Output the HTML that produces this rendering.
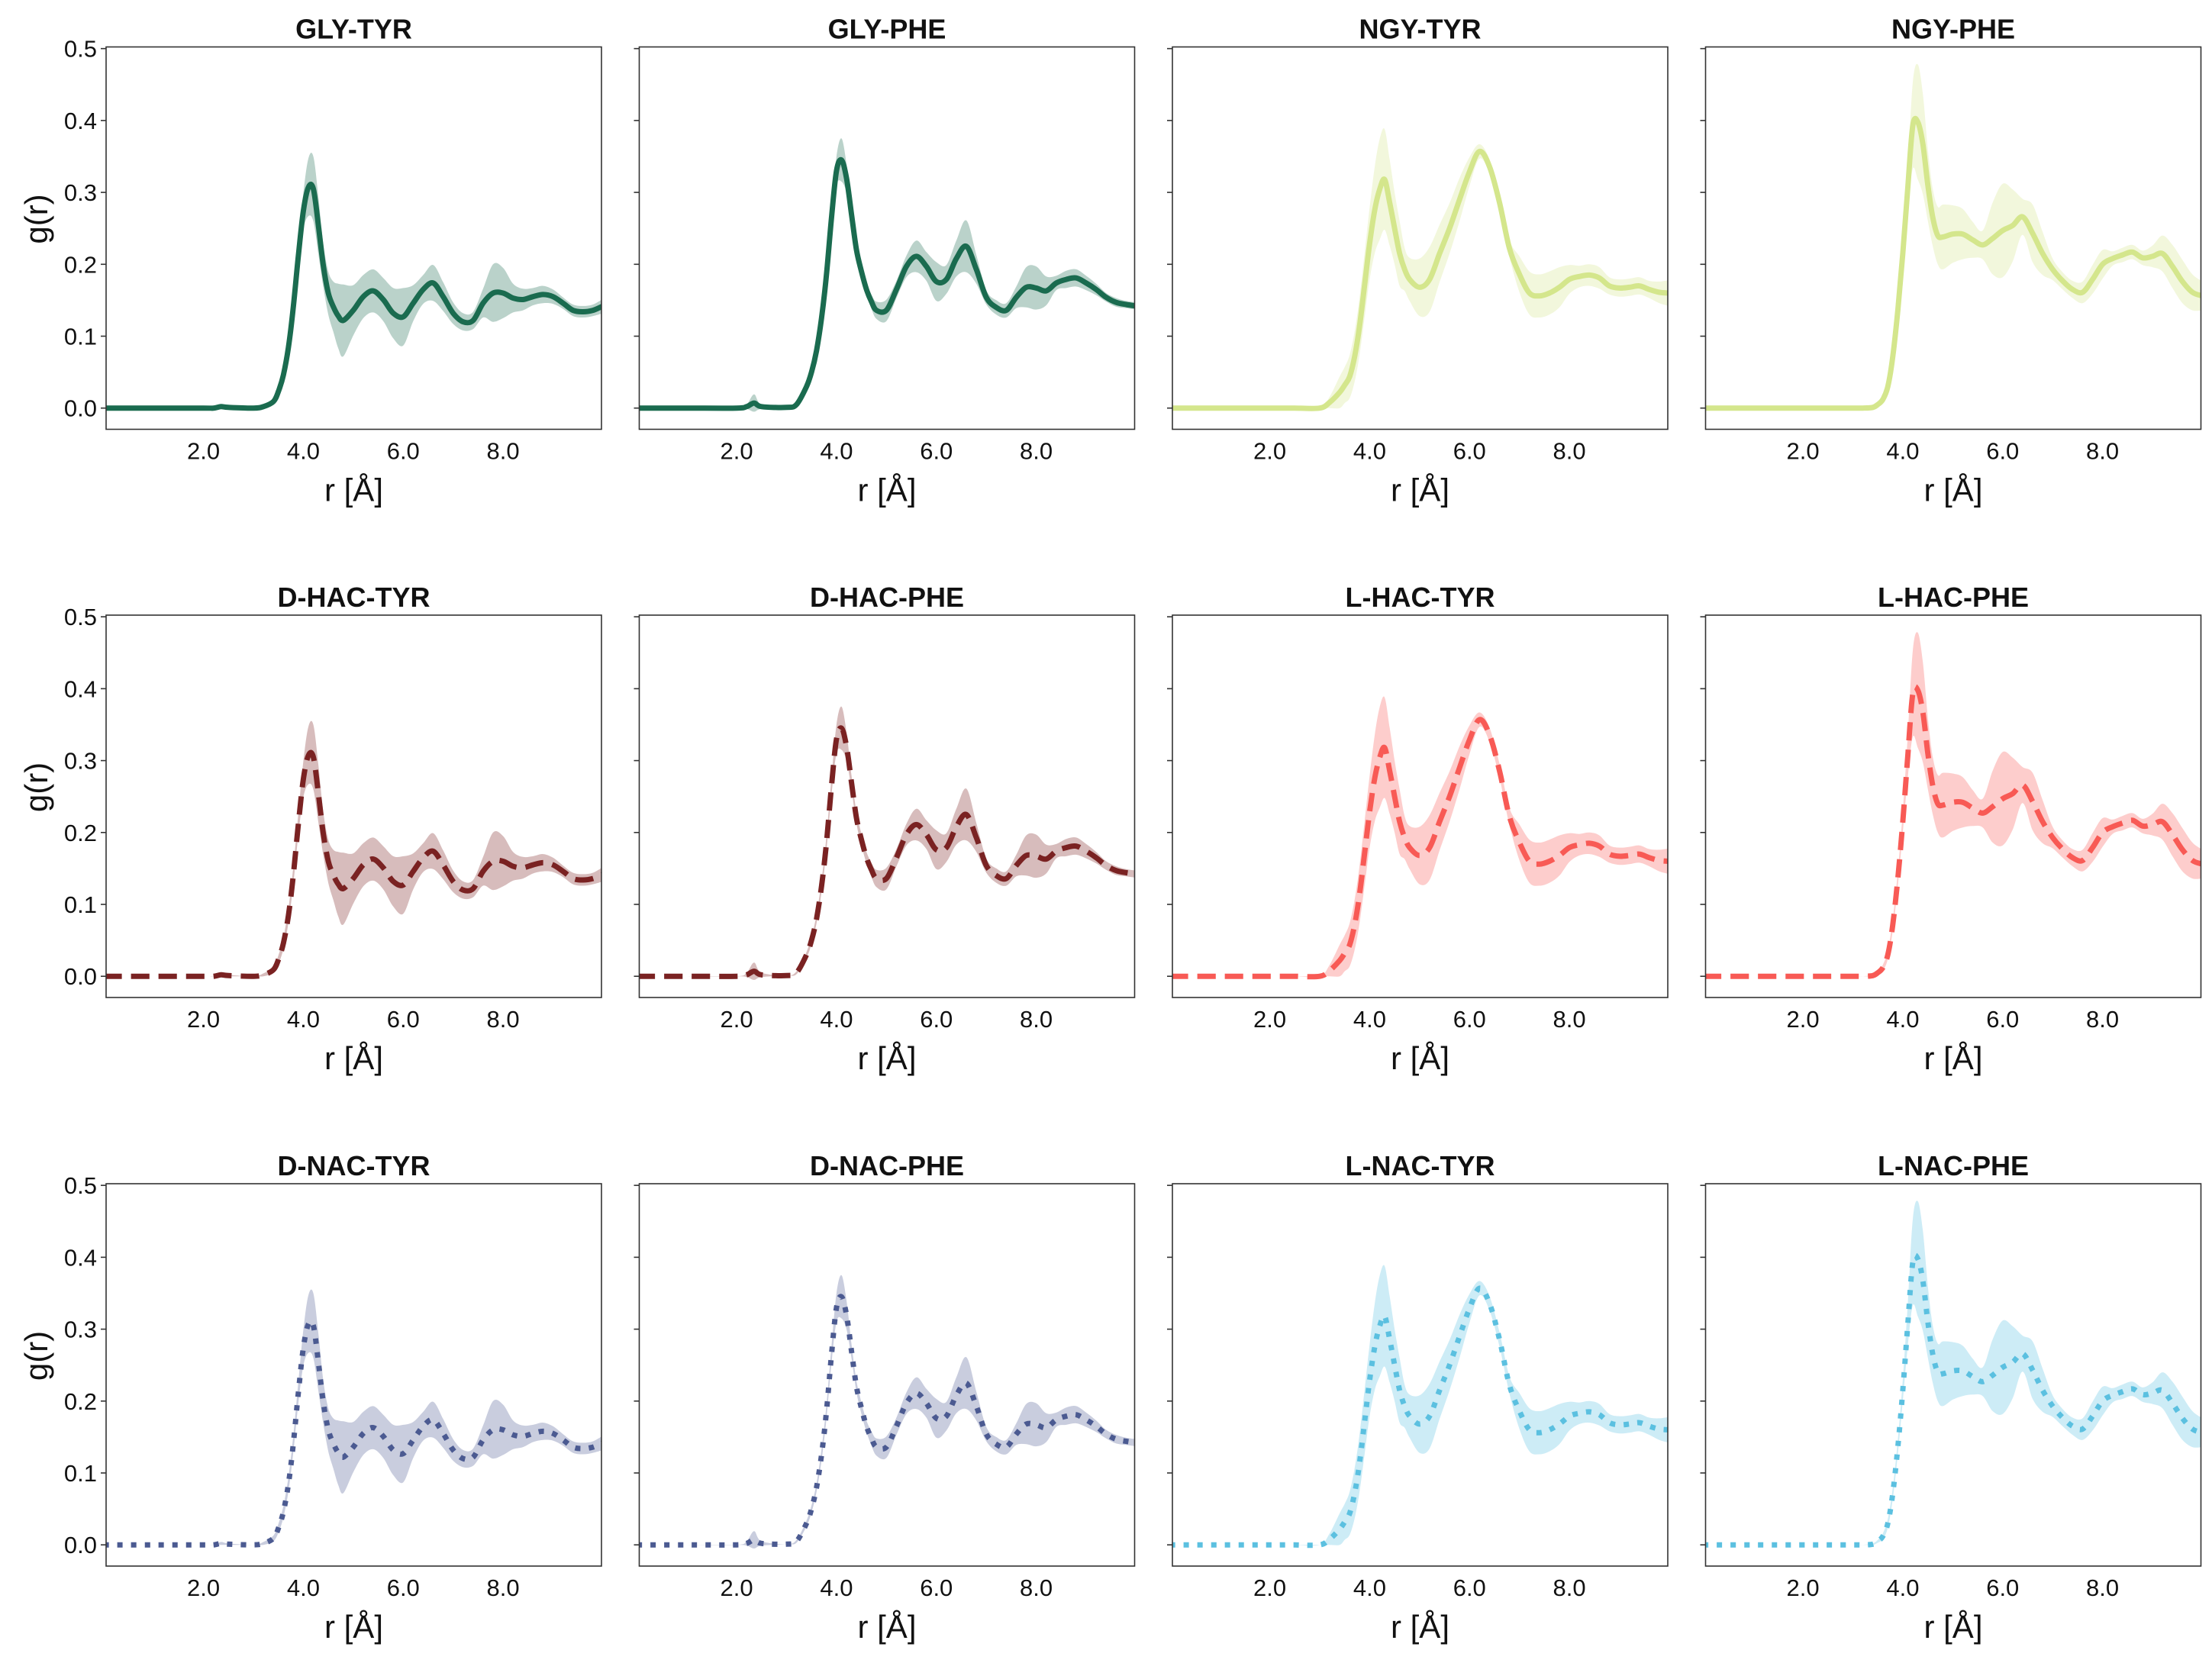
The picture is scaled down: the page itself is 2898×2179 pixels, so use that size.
<!DOCTYPE html>
<html><head><meta charset="utf-8"><style>
html,body{margin:0;padding:0;background:#fff;}
svg{display:block;}
text{font-family:"Liberation Sans",sans-serif;fill:#111;}
</style></head><body>
<svg id="fig" width="2898" height="2179" viewBox="0 0 2898 2179" xmlns="http://www.w3.org/2000/svg"></svg>
<script>
// shared r grid (Å)
const rGrid = [0,1,2,2.2,2.35,2.5,3.0,3.2,3.4,3.5,3.6,3.7,3.8,3.9,4.0,4.1,4.2,4.3,4.4,4.5,4.6,4.7,4.8,5.0,5.2,5.4,5.6,5.8,6.0,6.2,6.4,6.6,6.8,7.0,7.2,7.4,7.6,7.8,8.0,8.2,8.4,8.6,8.8,9.0,9.2,9.4,9.6,9.8,10.0];
// TYR-like (GLY/D-*) series
const gA = [0,0,0,0,0.002,0.001,0,0.002,0.009,0.023,0.046,0.084,0.141,0.212,0.274,0.307,0.305,0.255,0.198,0.16,0.141,0.128,0.122,0.136,0.155,0.163,0.151,0.132,0.127,0.146,0.165,0.174,0.155,0.132,0.12,0.122,0.146,0.16,0.16,0.153,0.151,0.155,0.158,0.155,0.146,0.136,0.134,0.136,0.142];
const eA = [0,0,0,0,0.002,0.001,0,0.002,0.004,0.006,0.008,0.01,0.012,0.015,0.025,0.04,0.045,0.04,0.03,0.03,0.035,0.045,0.05,0.035,0.03,0.03,0.03,0.035,0.04,0.025,0.02,0.025,0.02,0.015,0.012,0.012,0.02,0.04,0.035,0.02,0.015,0.012,0.012,0.01,0.008,0.008,0.008,0.008,0.01];
const gB = [0,0,0,0.002,0.007,0.002,0.001,0.005,0.03,0.05,0.08,0.125,0.186,0.265,0.33,0.345,0.32,0.27,0.22,0.19,0.165,0.148,0.136,0.136,0.165,0.197,0.211,0.197,0.176,0.179,0.208,0.225,0.193,0.154,0.14,0.136,0.154,0.168,0.167,0.163,0.174,0.179,0.181,0.174,0.165,0.154,0.147,0.144,0.142];
const eB = [0,0,0,0.003,0.012,0.003,0,0.002,0.004,0.005,0.006,0.008,0.01,0.012,0.02,0.03,0.02,0.01,0.008,0.008,0.008,0.01,0.012,0.015,0.012,0.015,0.022,0.02,0.027,0.02,0.025,0.036,0.02,0.01,0.01,0.01,0.015,0.028,0.03,0.02,0.01,0.012,0.012,0.01,0.008,0.006,0.006,0.005,0.005];
const gC = [0,0,0,0,0,0,0,0.008,0.022,0.032,0.044,0.072,0.115,0.172,0.229,0.275,0.304,0.318,0.286,0.25,0.215,0.193,0.179,0.168,0.179,0.215,0.25,0.29,0.329,0.357,0.336,0.286,0.222,0.186,0.16,0.156,0.16,0.168,0.179,0.183,0.185,0.181,0.17,0.167,0.168,0.17,0.165,0.161,0.16];
const eC = [0,0,0,0,0,0,0,0.008,0.022,0.025,0.03,0.035,0.04,0.045,0.05,0.06,0.07,0.07,0.06,0.05,0.045,0.03,0.03,0.04,0.045,0.04,0.035,0.03,0.02,0.01,0.01,0.01,0.012,0.025,0.03,0.03,0.03,0.028,0.02,0.015,0.015,0.015,0.012,0.012,0.012,0.012,0.012,0.015,0.018];
const gD = [0,0,0,0,0,0,0,0,0.001,0.005,0.012,0.03,0.072,0.136,0.215,0.307,0.393,0.398,0.368,0.311,0.265,0.24,0.238,0.242,0.242,0.234,0.227,0.236,0.247,0.254,0.266,0.243,0.215,0.193,0.177,0.165,0.161,0.179,0.2,0.208,0.213,0.217,0.209,0.211,0.215,0.197,0.176,0.161,0.156];
const eD = [0,0,0,0,0,0,0,0,0.001,0.002,0.004,0.006,0.008,0.01,0.015,0.03,0.06,0.08,0.07,0.05,0.04,0.04,0.045,0.04,0.035,0.025,0.02,0.05,0.065,0.05,0.025,0.04,0.03,0.015,0.012,0.012,0.015,0.02,0.02,0.01,0.01,0.01,0.01,0.015,0.025,0.03,0.03,0.025,0.02];
const xTicks = [2,4,6,8];
const xTickLabels = ["2.0","4.0","6.0","8.0"];
const yTicks = [0,0.1,0.2,0.3,0.4,0.5];
const yTickLabels = ["0.0","0.1","0.2","0.3","0.4","0.5"];
const titles = [["GLY-TYR","GLY-PHE","NGY-TYR","NGY-PHE"],["D-HAC-TYR","D-HAC-PHE","L-HAC-TYR","L-HAC-PHE"],["D-NAC-TYR","D-NAC-PHE","L-NAC-TYR","L-NAC-PHE"]];

const means=[gA,gB,gC,gD], errs=[eA,eB,eC,eD];
const colors=[["#1a6b4f","#1a6b4f","#d4e68c","#d4e68c"],["#7a2222","#7a2222","#f85a55","#f85a55"],["#4b5a91","#4b5a91","#5bc0e0","#5bc0e0"]];
const dashes=["none","24 12","7 11"];
const NS="http://www.w3.org/2000/svg";
const svg=document.getElementById('fig');
const L=[139,837.5,1536,2234.5], T=[61.5,806,1551], W=649, H=501;
const XMIN=0.05, XMAX=9.97, YMIN=-0.0295, YMAX=0.5023;
function mk(tag,attrs,parent){const e=document.createElementNS(NS,tag);for(const k in attrs)e.setAttribute(k,attrs[k]);(parent||svg).appendChild(e);return e;}
function smooth(pts){let d="M"+pts[0][0].toFixed(1)+","+pts[0][1].toFixed(1);
  for(let i=0;i<pts.length-1;i++){const p0=pts[Math.max(0,i-1)],p1=pts[i],p2=pts[i+1],p3=pts[Math.min(pts.length-1,i+2)];
    const c1=[p1[0]+(p2[0]-p0[0])/6,p1[1]+(p2[1]-p0[1])/6],c2=[p2[0]-(p3[0]-p1[0])/6,p2[1]-(p3[1]-p1[1])/6];
    d+=" C"+c1[0].toFixed(1)+","+c1[1].toFixed(1)+" "+c2[0].toFixed(1)+","+c2[1].toFixed(1)+" "+p2[0].toFixed(1)+","+p2[1].toFixed(1);}
  return d;}
for(let row=0;row<3;row++)for(let col=0;col<4;col++){
  const x0=L[col],y0=T[row];
  const sx=v=>x0+(v-XMIN)/(XMAX-XMIN)*W, sy=v=>y0+H-(v-YMIN)/(YMAX-YMIN)*H;
  const g=mk('g',{});
  
  
  const cid='clip'+row+col;
  const cp=mk('clipPath',{id:cid},g);mk('rect',{x:x0,y:y0,width:W,height:H},cp);
  const m=means[col],e=errs[col],c=colors[row][col];
  const up=rGrid.map((r,i)=>[sx(r),sy(m[i]+e[i])]), lo=rGrid.map((r,i)=>[sx(r),sy(m[i]-e[i])]).reverse();
  let bd=smooth(up)+" L"+lo[0][0].toFixed(1)+","+lo[0][1].toFixed(1)+smooth(lo).slice(smooth(lo).indexOf(" C"))+" Z";
  const band=mk('path',{d:bd,fill:c,'fill-opacity':0.3,stroke:'none','clip-path':'url(#'+cid+')'},g);
  
  
  const line=mk('path',{d:smooth(rGrid.map((r,i)=>[sx(r),sy(m[i])])),fill:'none',stroke:c,'stroke-width':7,'stroke-dasharray':dashes[row],'stroke-linejoin':'round','clip-path':'url(#'+cid+')'},g);
  
  
  const fr=mk('rect',{x:x0,y:y0,width:W,height:H,fill:'none',stroke:'#333','stroke-width':1.6},g);
  
  
  yTicks.forEach((t,i)=>{mk('line',{x1:x0-7,x2:x0,y1:sy(t),y2:sy(t),stroke:'#333','stroke-width':1.6},g);
    if(col===0){const tx=mk('text',{x:x0-12,y:sy(t)+11,'font-size':31,'text-anchor':'end'},g);tx.textContent=yTickLabels[i];
      
      }});
  xTicks.forEach((t,i)=>{const tx=mk('text',{x:sx(t),y:y0+H+39,'font-size':31,'text-anchor':'middle'},g);tx.textContent=xTickLabels[i];
    
    });
  const xl=mk('text',{x:x0+W/2,y:y0+H+94,'font-size':42,'text-anchor':'middle'},g);xl.textContent="r [Å]";
  
  
  const ti=mk('text',{x:x0+W/2,y:y0-11,'font-size':36,'font-weight':'bold','text-anchor':'middle'},g);ti.textContent=titles[row][col];
  
  
  if(col===0){const yl=mk('text',{x:0,y:0,'font-size':42,'text-anchor':'middle',transform:'translate(62,'+(y0+H/2-25)+') rotate(-90)'},g);yl.textContent="g(r)";
    
    }
}
</script>
</body></html>
